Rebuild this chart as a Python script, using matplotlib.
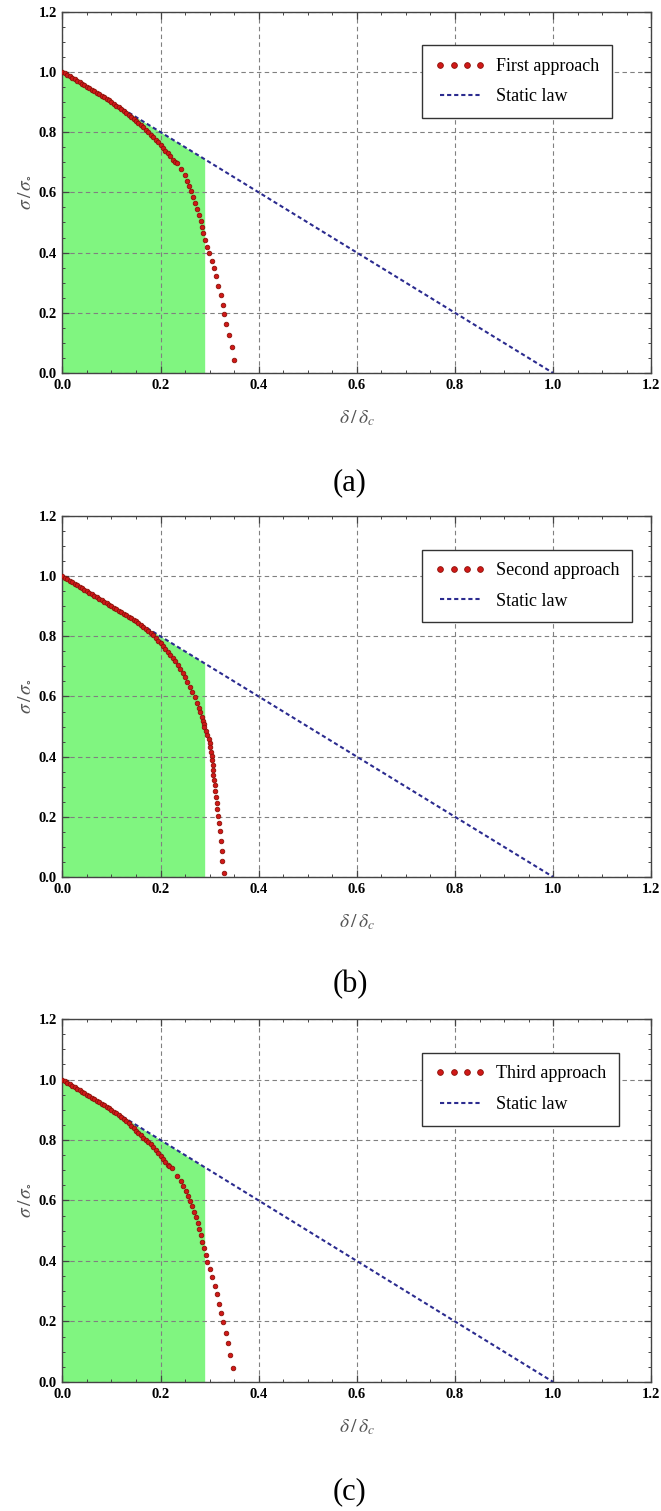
import matplotlib as mpl
import matplotlib.pyplot as plt
from matplotlib.ticker import MultipleLocator

mpl.rcParams['font.family'] = ['Liberation Serif', 'DejaVu Serif']
mpl.rcParams['mathtext.fontset'] = 'stix'

# static law: sigma/sigma0 = 1 - delta/delta_c
static_x = [0.0, 1.0]
static_y = [1.0, 0.0]

# green region under the static law
fill_x = [0.0, 0.29]
fill_top = [1.0, 0.71]

# first approach
first_x = [0.000, 0.005, 0.010, 0.015, 0.020, 0.025, 0.030, 0.035, 0.040, 0.045,
           0.050, 0.055, 0.060, 0.065, 0.070, 0.075, 0.080, 0.085, 0.090, 0.095,
           0.100, 0.105, 0.110, 0.115, 0.120, 0.125, 0.130, 0.135, 0.140, 0.145,
           0.150, 0.155, 0.160, 0.165, 0.170, 0.175, 0.180, 0.185, 0.190, 0.195,
           0.200, 0.205, 0.210, 0.215, 0.220, 0.225, 0.229,
           0.233, 0.242, 0.250, 0.254, 0.259, 0.263, 0.267, 0.271, 0.275, 0.2785,
           0.282, 0.285, 0.287, 0.291, 0.294, 0.2996, 0.304, 0.308, 0.3125, 0.317,
           0.323, 0.327, 0.330, 0.334, 0.340, 0.345, 0.3505]
first_y = [1.000, 0.995, 0.990, 0.985, 0.980, 0.975, 0.970, 0.965, 0.960, 0.955,
           0.950, 0.945, 0.940, 0.935, 0.930, 0.925, 0.920, 0.915, 0.910, 0.905,
           0.899, 0.894, 0.888, 0.883, 0.877, 0.870, 0.864, 0.858, 0.851, 0.845,
           0.838, 0.831, 0.823, 0.816, 0.808, 0.800, 0.792, 0.784, 0.775, 0.766,
           0.757, 0.748, 0.738, 0.730, 0.720, 0.709, 0.702,
           0.697, 0.677, 0.657, 0.639, 0.621, 0.604, 0.586, 0.566, 0.546, 0.526,
           0.506, 0.486, 0.464, 0.442, 0.420, 0.398, 0.373, 0.349, 0.322, 0.290,
           0.259, 0.226, 0.196, 0.162, 0.127, 0.087, 0.043]

# second approach (panel b)
second_x = [0.000, 0.005, 0.010, 0.015, 0.020, 0.025, 0.030, 0.035, 0.040, 0.045,
            0.050, 0.055, 0.060, 0.065, 0.070, 0.075, 0.080, 0.085, 0.090, 0.095,
            0.100, 0.105, 0.110, 0.115, 0.120, 0.125, 0.130, 0.135, 0.140, 0.145,
            0.150, 0.155, 0.160, 0.165, 0.170, 0.175, 0.180, 0.185, 0.190, 0.195,
            0.200, 0.205, 0.210, 0.215, 0.220, 0.225, 0.230, 0.235, 0.240, 0.245,
            0.250, 0.255, 0.260, 0.265, 0.270, 0.274, 0.278, 0.281, 0.284, 0.286,
            0.288,
            0.2887, 0.2928, 0.2955, 0.298, 0.300, 0.3016, 0.303, 0.3043, 0.305, 0.3064,
            0.307, 0.3077, 0.309, 0.3105, 0.312, 0.313, 0.3145, 0.316, 0.318, 0.320,
            0.321, 0.323, 0.3247, 0.326, 0.3295]
second_y = [1.000, 0.995, 0.990, 0.985, 0.980, 0.975, 0.970, 0.965, 0.960, 0.955,
            0.950, 0.945, 0.940, 0.935, 0.930, 0.925, 0.920, 0.915, 0.910, 0.905,
            0.900, 0.895, 0.890, 0.885, 0.880, 0.875, 0.870, 0.865, 0.860, 0.855,
            0.850, 0.844, 0.838, 0.832, 0.826, 0.819, 0.811, 0.803, 0.795, 0.786,
            0.777, 0.768, 0.758, 0.748, 0.738, 0.728, 0.717, 0.705, 0.693, 0.679,
            0.664, 0.649, 0.633, 0.616, 0.598, 0.579, 0.562, 0.548, 0.533, 0.520,
            0.508,
            0.498, 0.484, 0.471, 0.458, 0.4445, 0.431, 0.4166, 0.402, 0.389, 0.372,
            0.356, 0.339, 0.322, 0.305, 0.287, 0.267, 0.247, 0.226, 0.204, 0.178,
            0.152, 0.121, 0.087, 0.053, 0.014]

# third approach (panel c)
third_x = [0.000, 0.005, 0.010, 0.015, 0.020, 0.025, 0.030, 0.035, 0.040, 0.045,
           0.050, 0.055, 0.060, 0.065, 0.070, 0.075, 0.080, 0.085, 0.090, 0.095,
           0.100, 0.105, 0.110, 0.115, 0.120, 0.125, 0.130, 0.135, 0.140, 0.145,
           0.150, 0.155, 0.160, 0.165, 0.170, 0.175, 0.180, 0.185, 0.190, 0.195,
           0.200, 0.205, 0.210, 0.215, 0.218, 0.223,
           0.2337, 0.241, 0.2466, 0.252, 0.256, 0.260, 0.264, 0.268, 0.2724, 0.276,
           0.2785, 0.282, 0.2853, 0.2887, 0.292, 0.2955, 0.300, 0.3056, 0.3105, 0.315,
           0.320, 0.324, 0.3274, 0.333, 0.337, 0.342, 0.347]
third_y = [1.000, 0.995, 0.990, 0.985, 0.980, 0.975, 0.970, 0.965, 0.960, 0.955,
           0.950, 0.945, 0.940, 0.935, 0.930, 0.925, 0.920, 0.915, 0.910, 0.905,
           0.899, 0.894, 0.888, 0.882, 0.875, 0.869, 0.862, 0.855, 0.847, 0.839,
           0.831, 0.823, 0.815, 0.807, 0.799, 0.792, 0.786, 0.777, 0.768, 0.758,
           0.747, 0.736, 0.726, 0.717, 0.713, 0.706,
           0.681, 0.6645, 0.648, 0.632, 0.616, 0.599, 0.582, 0.563, 0.5445, 0.5245,
           0.505, 0.485, 0.4638, 0.442, 0.420, 0.398, 0.3725, 0.346, 0.318, 0.291,
           0.257, 0.227, 0.197, 0.163, 0.128, 0.088, 0.045]

panels = [
    ('First approach', first_x, first_y, [0.0943, 0.7531, 0.8911, 0.2392], '(a)', 0.6803),
    ('Second approach', second_x, second_y, [0.0943, 0.4196, 0.8911, 0.2389], '(b)', 0.3481),
    ('Third approach', third_x, third_y, [0.0943, 0.0854, 0.8911, 0.2402], '(c)', 0.0126),
]

RED = '#d01818'
RED_EDGE = '#8c1208'
BLUE = '#2b2b8f'
GREEN = '#80f580'


def draw_panel(fig, name, xs, ys, rect, tag, tag_y):
    ax = fig.add_axes(rect)
    ax.fill_between(fill_x, 0, fill_top, color=GREEN, linewidth=0, zorder=1)
    ax.plot(static_x, static_y, color=BLUE, lw=1.5, dashes=(2.0, 1.4),
            label='Static law', zorder=2)
    ax.plot(xs, ys, 'o', ms=3.3, color=RED, mec=RED_EDGE, mew=0.6,
            label=name, zorder=3)

    ax.set_xlim(0, 1.2)
    ax.set_ylim(0, 1.2)
    ax.xaxis.set_major_locator(MultipleLocator(0.2))
    ax.yaxis.set_major_locator(MultipleLocator(0.2))
    ax.xaxis.set_minor_locator(MultipleLocator(0.05))
    ax.yaxis.set_minor_locator(MultipleLocator(0.05))
    ax.xaxis.set_major_formatter(mpl.ticker.FormatStrFormatter('%.1f'))
    ax.yaxis.set_major_formatter(mpl.ticker.FormatStrFormatter('%.1f'))
    ax.tick_params(which='both', direction='in', top=True, right=True,
                   color='#444444')
    ax.tick_params(which='major', length=5, width=0.9, labelsize=10.5, pad=4)
    ax.tick_params(which='minor', length=2.5, width=0.7)
    for lab in ax.get_xticklabels() + ax.get_yticklabels():
        lab.set_fontweight('bold')
    for sp in ax.spines.values():
        sp.set_color('#444444')
        sp.set_linewidth(1.0)

    ax.grid(True, which='major', color='#808080', lw=0.8, dashes=(4, 3))

    ax.set_xlabel(r'$\delta\,/\,\delta_c$', fontsize=14, color='#555555', labelpad=12)
    ax.set_ylabel(r'$\sigma\,/\,\sigma_{\circ}$', fontsize=14, color='#555555', labelpad=4)

    # legend lists the approach first, static law second
    handles, labels = ax.get_legend_handles_labels()
    leg = ax.legend(handles[::-1], labels[::-1], loc='upper left',
                    bbox_to_anchor=(0.611, 0.907), borderaxespad=0,
                    numpoints=4, markerscale=1.25, fontsize=13, handlelength=2.8,
                    handletextpad=0.6, borderpad=0.7, labelspacing=0.75,
                    fancybox=False, framealpha=1, edgecolor='#333333')
    leg.get_frame().set_linewidth(1.0)

    fig.text(0.5295, tag_y, tag, fontsize=22, ha='center', va='center')
    return ax


def main():
    fig = plt.figure(figsize=(6.61, 15.11), dpi=100)
    for name, xs, ys, rect, tag, tag_y in panels:
        draw_panel(fig, name, xs, ys, rect, tag, tag_y)
    fig.savefig('out.png', dpi=100, facecolor='white')


if __name__ == '__main__': main()
